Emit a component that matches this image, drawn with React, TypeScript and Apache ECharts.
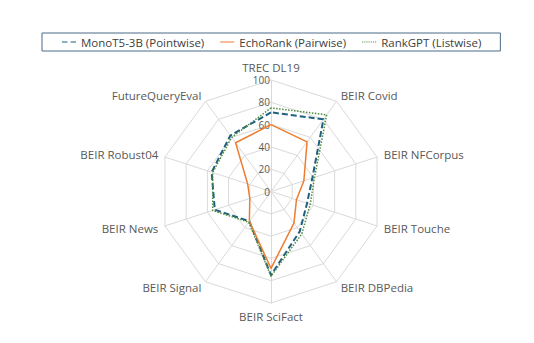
import React, { useEffect, useRef } from "react";
import * as echarts from "echarts";

// Clockwise order starting at the top
const indicatorNames = [
  "TREC DL19",
  "BEIR Covid",
  "BEIR NFCorpus",
  "BEIR Touche",
  "BEIR DBPedia",
  "BEIR SciFact",
  "BEIR Signal",
  "BEIR News",
  "BEIR Robust04",
  "FutureQueryEval",
];
const monoT5 = [71, 80, 39, 34, 44, 75, 33, 53, 56, 62];
const echoRank = [60, 55, 31, 24, 35, 69, 33, 20, 22, 54];
const rankGPT = [75, 85, 41, 37, 47, 76, 34, 55, 55, 60];
const seriesNames = ["MonoT5-3B (Pointwise)", "EchoRank (Pairwise)", "RankGPT (Listwise)"];
const axisMax = 100;

// ECharts radar goes counter-clockwise; reorder to reproduce clockwise layout
const ccw = <T,>(arr: T[]): T[] => [arr[0], ...arr.slice(1).reverse()];

const FONT = "'Open Sans', sans-serif";

export default function App() {
  const ref = useRef<HTMLDivElement>(null);
  useEffect(() => {
    if (!ref.current) return;
    const chart = echarts.init(ref.current, undefined, { renderer: "svg" });
    const names = ccw(indicatorNames);
    const indicator = names.map((n, i) => ({
      name: n,
      min: 0,
      max: axisMax,
      ...(i === 0
        ? {
            axisLabel: {
              show: true,
              color: "#595959",
              fontSize: 10,
              fontFamily: FONT,
              margin: 1,
            },
          }
        : {}),
    }));
    chart.setOption({
      animation: false,
      backgroundColor: "#ffffff",
      legend: {
        left: 42,
        top: 33,
        padding: [3, 19, 3, 20],
        itemGap: 16,
        itemWidth: 14,
        itemHeight: 2,
        borderColor: "#4a6b88",
        borderWidth: 1,
        textStyle: { color: "#404040", fontSize: 11.5, fontFamily: FONT },
        data: [
          { name: seriesNames[0], icon: "path://M0,0h5v1h-5z M8,0h5v1h-5z" },
          { name: seriesNames[1], icon: "path://M0,0h14v1h-14z" },
          {
            name: seriesNames[2],
            icon: "path://M0,0h1v1h-1z M2,0h1v1h-1z M4,0h1v1h-1z M6,0h1v1h-1z M8,0h1v1h-1z M10,0h1v1h-1z M12,0h1v1h-1z",
          },
        ],
      },
      radar: {
        center: [271, 191.5],
        radius: 111.5,
        startAngle: 90,
        shape: "polygon",
        splitNumber: 5,
        nameGap: 7,
        indicator,
        axisName: { color: "#595959", fontSize: 11.5, fontFamily: FONT },
        axisLine: { lineStyle: { color: "#d9d9d9", width: 1 } },
        splitLine: { lineStyle: { color: "#d9d9d9", width: 1 } },
        splitArea: { show: false },
        axisTick: { show: false },
        axisLabel: { show: false },
      },
      series: [
        {
          type: "radar",
          symbol: "none",
          data: [
            {
              name: seriesNames[0],
              value: ccw(monoT5),
              lineStyle: { color: "#1f5f7f", width: 2, type: [6, 3] },
              itemStyle: { color: "#1f5f7f" },
            },
            {
              name: seriesNames[1],
              value: ccw(echoRank),
              lineStyle: { color: "#ed7d31", width: 1.5, type: "solid" },
              itemStyle: { color: "#ed7d31" },
            },
            {
              name: seriesNames[2],
              value: ccw(rankGPT),
              lineStyle: { color: "#4e8a3e", width: 1.5, type: [1.5, 1.5] },
              itemStyle: { color: "#4e8a3e" },
            },
          ],
        },
      ],
    });
    return () => chart.dispose();
  }, []);
  return (
    <div
      ref={ref}
      style={{ position: "fixed", left: 0, top: 0, width: 534, height: 343, background: "#fff" }}
    />
  );
}
